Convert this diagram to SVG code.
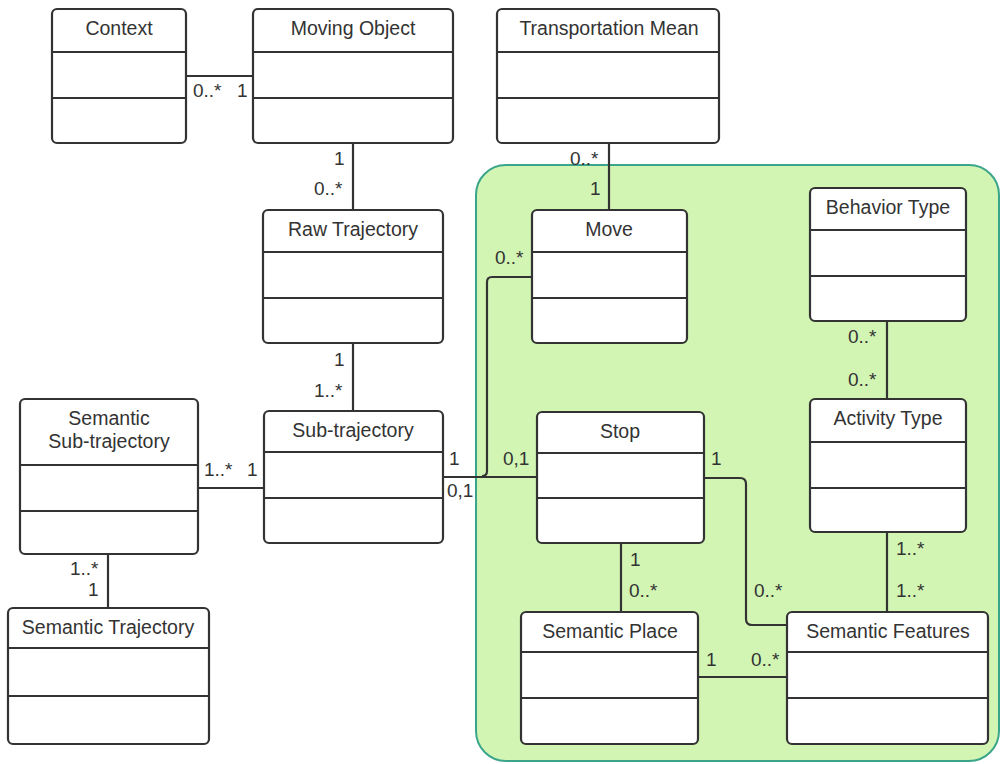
<svg xmlns="http://www.w3.org/2000/svg" width="1001" height="764" viewBox="0 0 1001 764">
<style>
.box{fill:#fff;stroke:#333;stroke-width:2.2}
.div{stroke:#333;stroke-width:2.2}
.t{font-family:"Liberation Sans",Arial,sans-serif;font-size:19.5px;fill:#333;text-anchor:middle}
.m{font-family:"Liberation Sans",Arial,sans-serif;font-size:19px;fill:#333}
.c{fill:none;stroke:#333;stroke-width:2.2}
</style>
<rect x="476" y="165" width="523" height="596" rx="30" fill="#d2f5b4" stroke="#3aa58a" stroke-width="2"/>
<g id="connectors">
<path class="c" d="M186,76 H253"/>
<path class="c" d="M353,143 V210"/>
<path class="c" d="M353,343 V411"/>
<path class="c" d="M198,488 H264"/>
<path class="c" d="M108,554 V608"/>
<path class="c" d="M443,477 H537"/>
<path class="c" d="M532,277 H492 Q487,277 487,282 V471 Q487,476 482,476"/>
<path class="c" d="M609,143 V210"/>
<path class="c" d="M887,321 V399"/>
<path class="c" d="M887,532 V612"/>
<path class="c" d="M621,543 V612"/>
<path class="c" d="M704,478 H740 Q746,478 746,484 V619 Q746,625 752,625 H787"/>
<path class="c" d="M698,677 H787"/>
<text class="m" x="193" y="97">0..*</text>
<text class="m" x="237" y="97">1</text>
<text class="m" x="334" y="165">1</text>
<text class="m" x="314" y="195">0..*</text>
<text class="m" x="334" y="366">1</text>
<text class="m" x="314" y="397">1..*</text>
<text class="m" x="204" y="476">1..*</text>
<text class="m" x="247" y="476">1</text>
<text class="m" x="70" y="575">1..*</text>
<text class="m" x="88" y="596">1</text>
<text class="m" x="449" y="465">1</text>
<text class="m" x="447" y="497">0,1</text>
<text class="m" x="503" y="465">0,1</text>
<text class="m" x="711" y="465">1</text>
<text class="m" x="570" y="165">0..*</text>
<text class="m" x="590" y="195">1</text>
<text class="m" x="495" y="264">0..*</text>
<text class="m" x="848" y="343">0..*</text>
<text class="m" x="848" y="386">0..*</text>
<text class="m" x="896" y="555">1..*</text>
<text class="m" x="896" y="597">1..*</text>
<text class="m" x="630" y="566">1</text>
<text class="m" x="629" y="597">0..*</text>
<text class="m" x="754" y="597">0..*</text>
<text class="m" x="706" y="666">1</text>
<text class="m" x="751" y="666">0..*</text>
</g>
<g id="context"><rect class="box" x="52" y="9" width="134" height="134" rx="5"/><path class="div" d="M52,52 H186 M52,98 H186"/><text class="t" x="119" y="35">Context</text></g>
<g id="moving-object"><rect class="box" x="253" y="9" width="200" height="134" rx="5"/><path class="div" d="M253,52 H453 M253,98 H453"/><text class="t" x="353" y="35">Moving Object</text></g>
<g id="transportation-mean"><rect class="box" x="497" y="9" width="222" height="134" rx="5"/><path class="div" d="M497,52 H719 M497,98 H719"/><text class="t" x="609" y="35">Transportation Mean</text></g>
<g id="raw-trajectory"><rect class="box" x="263" y="210" width="180" height="133" rx="5"/><path class="div" d="M263,252 H443 M263,298 H443"/><text class="t" x="353" y="236">Raw Trajectory</text></g>
<g id="sub-trajectory"><rect class="box" x="264" y="411" width="179" height="132" rx="5"/><path class="div" d="M264,452 H443 M264,498 H443"/><text class="t" x="353" y="437">Sub-trajectory</text></g>
<g id="semantic-sub-trajectory"><rect class="box" x="20" y="399" width="178" height="155" rx="5"/><path class="div" d="M20,465 H198 M20,511 H198"/><text class="t" x="109" y="425">Semantic</text><text class="t" x="109" y="448">Sub-trajectory</text></g>
<g id="semantic-trajectory"><rect class="box" x="8" y="608" width="201" height="136" rx="5"/><path class="div" d="M8,648 H209 M8,696 H209"/><text class="t" x="108" y="634">Semantic Trajectory</text></g>
<g id="move"><rect class="box" x="532" y="210" width="155" height="133" rx="5"/><path class="div" d="M532,252 H687 M532,298 H687"/><text class="t" x="609" y="236">Move</text></g>
<g id="stop"><rect class="box" x="537" y="412" width="167" height="131" rx="5"/><path class="div" d="M537,453 H704 M537,498 H704"/><text class="t" x="620" y="438">Stop</text></g>
<g id="behavior-type"><rect class="box" x="810" y="188" width="156" height="133" rx="5"/><path class="div" d="M810,230 H966 M810,276 H966"/><text class="t" x="888" y="214">Behavior Type</text></g>
<g id="activity-type"><rect class="box" x="810" y="399" width="156" height="133" rx="5"/><path class="div" d="M810,442 H966 M810,488 H966"/><text class="t" x="888" y="425">Activity Type</text></g>
<g id="semantic-place"><rect class="box" x="521" y="612" width="177" height="132" rx="5"/><path class="div" d="M521,652 H698 M521,698 H698"/><text class="t" x="610" y="638">Semantic Place</text></g>
<g id="semantic-features"><rect class="box" x="787" y="612" width="201" height="132" rx="5"/><path class="div" d="M787,652 H988 M787,698 H988"/><text class="t" x="888" y="638">Semantic Features</text></g>
</svg>
